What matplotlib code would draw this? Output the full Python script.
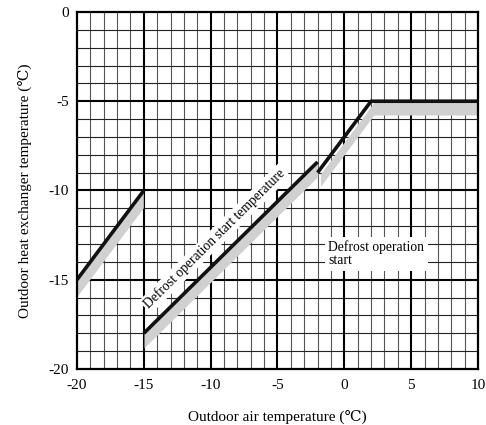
import numpy as np
import matplotlib.pyplot as plt

plt.rcParams['font.family'] = ['Liberation Serif', 'DejaVu Serif']
plt.rcParams['axes.unicode_minus'] = False

# curve data
line1_x = [-20, -15]
line1_y = [-15, -10]
line2_x = [-15, -2]
line2_y = [-18, -8.4]
line3_x = [-2, 2, 10]
line3_y = [-9, -5, -5]

x_ticks = [-20, -15, -10, -5, 0, 5, 10]
y_ticks = [-20, -15, -10, -5, 0]

fig = plt.figure(figsize=(4.86, 4.25), dpi=100)
ax = fig.add_axes([0.1584, 0.1318, 0.8251, 0.8400])
ax.set_xlim(-20, 10)
ax.set_ylim(-20, 0)

# grid: 1 unit minor, 5 unit major
for v in range(-19, 10):
    if v % 5:
        ax.axvline(v, color='#555555', lw=0.8, zorder=1)
for v in range(-19, 0):
    if v % 5:
        ax.axhline(v, color='#222222', lw=0.8, zorder=1)
for v in x_ticks[1:-1]:
    ax.axvline(v, color='black', lw=1.5, zorder=1)
for v in y_ticks[1:-1]:
    ax.axhline(v, color='black', lw=1.5, zorder=1)


# grey shadow band below each curve
def shadow(xs, ys, dx=0.15, top=0.2, bot=0.9):
    xs = np.asarray(xs, float)
    ys = np.asarray(ys, float)
    px = np.concatenate([xs + dx, (xs + dx)[::-1]])
    py = np.concatenate([ys - top, (ys - bot)[::-1]])
    ax.fill(px, py, color='#d0d0d0', lw=0, zorder=2)


shadow(line1_x, line1_y, dx=0.0, top=0.0, bot=1.0)
shadow(line2_x, line2_y, dx=0.05, top=0.05, bot=0.85)
shadow(line3_x, line3_y, dx=0.25, top=0.1, bot=0.8)

for xs, ys in [(line1_x, line1_y), (line2_x, line2_y), (line3_x, line3_y)]:
    ax.plot(xs, ys, color='#111111', lw=2.6, solid_capstyle='butt', zorder=4)

slope = (line2_y[1] - line2_y[0]) / (line2_x[1] - line2_x[0])
ax.text(-9.7, -12.7, 'Defrost operation start temperature', fontsize=9.8,
        rotation=np.degrees(np.arctan(slope)), transform_rotates_text=True,
        rotation_mode='anchor', ha='center', va='center', zorder=3,
        bbox=dict(facecolor='white', edgecolor='none', pad=1.5))
ax.text(-1.2, -13.55, 'Defrost operation\nstart', fontsize=9.8, ha='left', va='center',
        linespacing=1.0, zorder=5,
        bbox=dict(facecolor='white', edgecolor='none', pad=2.5))

ax.set_xticks(x_ticks)
ax.set_yticks(y_ticks)
ax.tick_params(length=0, labelsize=11, pad=7)
ax.tick_params(axis='y', pad=6)
for s in ax.spines.values():
    s.set_linewidth(1.6)
    s.set_zorder(6)

ax.set_xlabel('Outdoor air temperature (℃)', fontsize=11, labelpad=13)
ax.set_ylabel('Outdoor heat exchanger temperature (℃)', fontsize=11, labelpad=12)

fig.savefig('out.png', dpi=100)
